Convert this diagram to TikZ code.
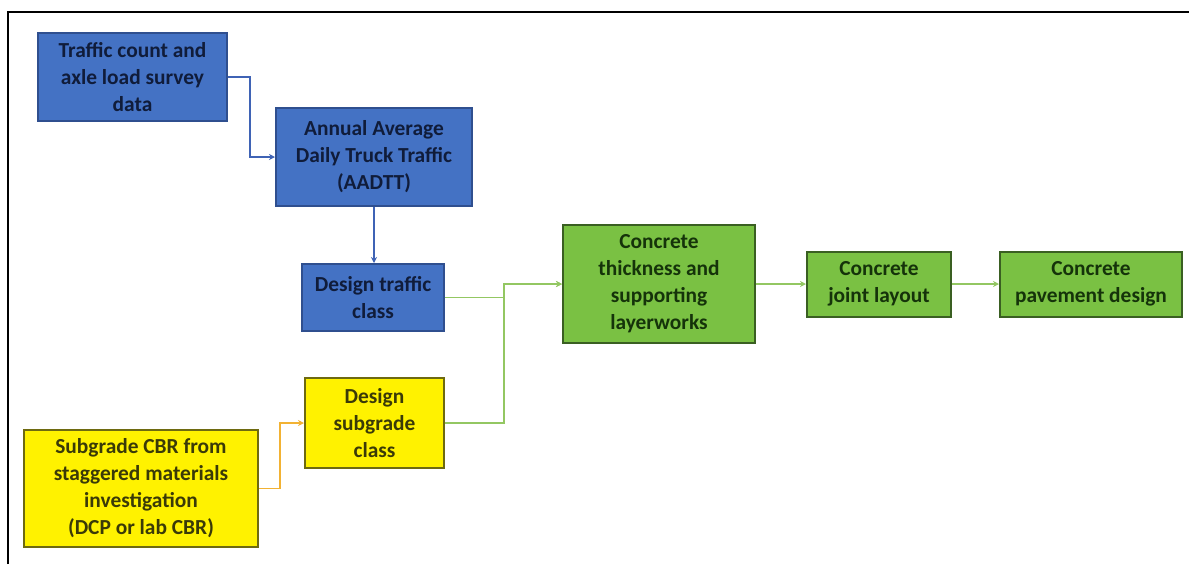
\documentclass[tikz,border=0pt]{standalone}
\usepackage{fontspec}
\setmainfont{Carlito}
\usetikzlibrary{arrows.meta}

\definecolor{bluefill}{HTML}{4472C4}
\definecolor{blueline}{HTML}{2F4F8F}
\definecolor{bluetext}{HTML}{101C3A}
\definecolor{bluearrow}{HTML}{3F63B5}
\definecolor{greenfill}{HTML}{7AC143}
\definecolor{greenline}{HTML}{3A5F22}
\definecolor{greentext}{HTML}{15330A}
\definecolor{greenarrow}{HTML}{93C762}
\definecolor{yellowline}{HTML}{6E6A10}
\definecolor{yellowtext}{HTML}{3A3A08}
\definecolor{orangearrow}{HTML}{F2B233}

\tikzset{
  box/.style={draw, line width=1pt, align=center, inner sep=2pt,
    font=\fontsize{10.7}{13.5}\selectfont\bfseries},
  bluebox/.style={box, fill=bluefill, draw=blueline, text=bluetext},
  greenbox/.style={box, fill=greenfill, draw=greenline, text=greentext},
  yellowbox/.style={box, fill=yellow, draw=yellowline, text=yellowtext},
  link/.style={-{Stealth[length=3pt,width=3pt]}, line width=0.8pt},
}

\begin{document}
\begin{tikzpicture}[x=0.5pt,y=-0.5pt]
      \useasboundingbox (0,0) rectangle (1189,564);
      \draw[line width=0.8pt] (8,564) -- (8,12) -- (1189,12);

      \node[bluebox, minimum width=94.5pt, minimum height=44pt] (traffic) at (132.5,77)
        {Traffic count and\\axle load survey\\data};
      \node[bluebox, minimum width=98pt, minimum height=49pt] (aadtt) at (374,157)
        {Annual Average\\Daily Truck Traffic\\(AADTT)};
      \node[bluebox, minimum width=71pt, minimum height=33.5pt] (dtraffic) at (373,297.5)
        {Design traffic\\class};

      \node[yellowbox, minimum width=69.5pt, minimum height=45pt] (dsub) at (374.5,423)
        {Design\\subgrade\\class};
      \node[yellowbox, minimum width=117pt, minimum height=58.5pt] (cbr) at (141,488.5)
        {Subgrade CBR from\\staggered materials\\investigation\\(DCP or lab CBR)};

      \node[greenbox, minimum width=96pt, minimum height=59pt] (thick) at (659,284)
        {Concrete\\thickness and\\supporting\\layerworks};
      \node[greenbox, minimum width=72pt, minimum height=32.5pt] (joint) at (879,284)
        {Concrete\\joint layout};
      \node[greenbox, minimum width=91pt, minimum height=32.5pt] (pave) at (1091,284)
        {Concrete\\pavement design};

      \coordinate (tbend) at (250,0);
      \coordinate (gbend) at (504,0);
      \coordinate (ybend) at (280,0);

      \draw[link, bluearrow] (traffic.east) -- (traffic.east -| tbend) |- (aadtt.west);
      \draw[link, bluearrow] (aadtt.south) -- (aadtt.south |- dtraffic.north);
      \draw[link, greenarrow] (dtraffic.east) -- (dtraffic.east -| gbend) |- (thick.west);
      \draw[link, greenarrow] (dsub.east) -- (dsub.east -| gbend) |- (thick.west);
      \draw[link, orangearrow] (cbr.east) -- (cbr.east -| ybend) |- (dsub.west);
      \draw[link, greenarrow] (thick.east) -- (joint.west);
      \draw[link, greenarrow] (joint.east) -- (pave.west);
    \end{tikzpicture}
\end{document}
